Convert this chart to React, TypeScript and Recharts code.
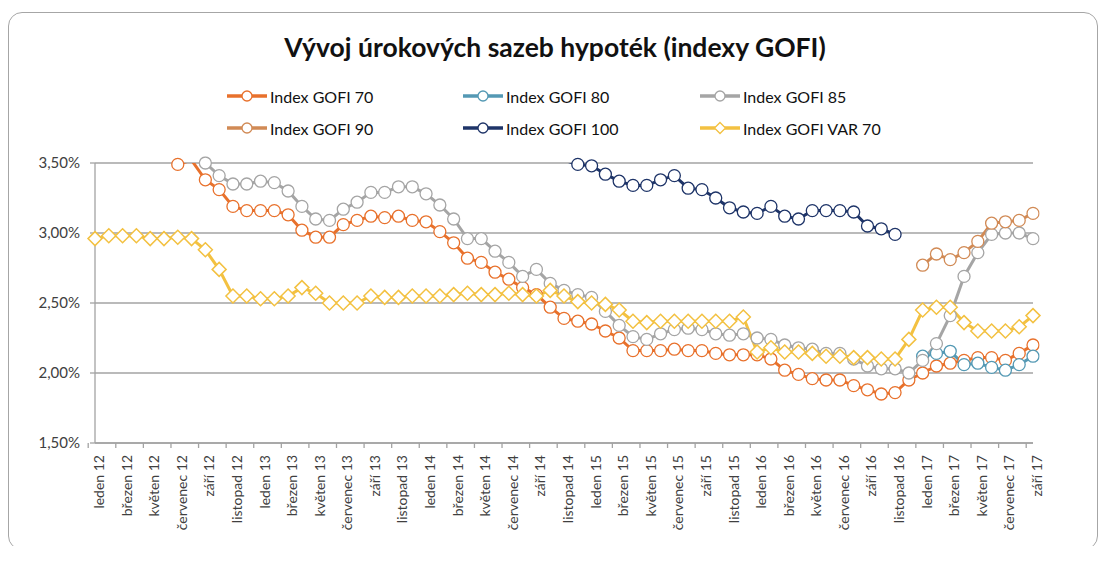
import React from 'react';
import { LineChart, Line, XAxis, YAxis, CartesianGrid } from 'recharts';

// ---------- categories ----------
const MONTHS = ['leden', 'únor', 'březen', 'duben', 'květen', 'červen', 'červenec', 'srpen', 'září', 'říjen', 'listopad', 'prosinec'];
const YEARS = ['12', '13', '14', '15', '16', '17'];
const MONTH_COUNT = 69; // leden 12 .. září 17
const categories: string[] = YEARS.flatMap((y) => MONTHS.map((m) => `${m} ${y}`)).slice(0, MONTH_COUNT);

// ---------- series values (start = index of first month with a value) ----------
const gofi70Start = 6;
const gofi70 = [
  3.49, 3.52, 3.38, 3.31, 3.19, 3.16, 3.16, 3.16, 3.13, 3.02,
  2.97, 2.97, 3.06, 3.09, 3.12, 3.11, 3.12, 3.09, 3.08, 3.01,
  2.93, 2.82, 2.79, 2.72, 2.67, 2.61, 2.56, 2.47, 2.39, 2.37,
  2.35, 2.30, 2.25, 2.16, 2.16, 2.16, 2.17, 2.16, 2.16, 2.14,
  2.13, 2.13, 2.13, 2.10, 2.02, 1.99, 1.96, 1.95, 1.95, 1.91,
  1.88, 1.85, 1.86, 1.95, 2.00, 2.05, 2.07, 2.09, 2.11, 2.11,
  2.09, 2.14, 2.20,
];

const gofi80Start = 60;
const gofi80 = [2.12, 2.14, 2.155, 2.06, 2.07, 2.04, 2.02, 2.06, 2.12];

const gofi85Start = 8;
const gofi85 = [
  3.50, 3.41, 3.35, 3.35, 3.37, 3.36, 3.30, 3.19,
  3.10, 3.09, 3.17, 3.22, 3.29, 3.29, 3.33, 3.33, 3.28, 3.20,
  3.10, 2.96, 2.96, 2.87, 2.79, 2.69, 2.74, 2.64, 2.59, 2.56,
  2.54, 2.44, 2.34, 2.26, 2.24, 2.28, 2.31, 2.32, 2.31, 2.28,
  2.27, 2.28, 2.25, 2.24, 2.20, 2.18, 2.17, 2.14, 2.14, 2.10,
  2.05, 2.03, 2.03, 2.00, 2.09, 2.21, 2.41, 2.69, 2.86, 2.99,
  3.00, 3.00, 2.96,
];

const gofi90Start = 60;
const gofi90 = [2.77, 2.85, 2.81, 2.86, 2.94, 3.07, 3.08, 3.09, 3.14];

const gofi100Start = 34;
const gofi100 = [
  3.52, 3.49,
  3.48, 3.42, 3.37, 3.34, 3.34, 3.38, 3.41, 3.32, 3.31, 3.25,
  3.18, 3.15, 3.14, 3.19, 3.12, 3.10, 3.16, 3.16, 3.16, 3.15,
  3.05, 3.03, 2.99,
];

const var70Start = 0;
const var70 = [
  2.96, 2.98, 2.98, 2.98, 2.96, 2.96, 2.97, 2.96, 2.88, 2.74,
  2.55, 2.55, 2.53, 2.53, 2.55, 2.61, 2.57, 2.50, 2.50, 2.50,
  2.55, 2.54, 2.54, 2.55, 2.55, 2.55, 2.56, 2.57, 2.56, 2.56,
  2.57, 2.56, 2.55, 2.59, 2.55, 2.51, 2.50, 2.49, 2.45, 2.37,
  2.36, 2.37, 2.37, 2.37, 2.37, 2.37, 2.37, 2.40, 2.15, 2.18,
  2.15, 2.15, 2.14, 2.12, 2.12, 2.11, 2.11, 2.10, 2.10, 2.24,
  2.45, 2.47, 2.47, 2.36, 2.30, 2.30, 2.30, 2.33, 2.41,
];

// ---------- axis ----------
const yTicks = [1.5, 2.0, 2.5, 3.0, 3.5];
const Y_MIN = 1.5;
const Y_MAX = 3.5;

const TITLE = 'Vývoj úrokových sazeb hypoték (indexy GOFI)';

type Shape = 'circle' | 'diamond';
const series: { key: string; name: string; color: string; start: number; values: number[]; shape: Shape }[] = [
  { key: 'g70', name: 'Index GOFI 70', color: '#E8712C', start: gofi70Start, values: gofi70, shape: 'circle' },
  { key: 'g80', name: 'Index GOFI 80', color: '#5499B4', start: gofi80Start, values: gofi80, shape: 'circle' },
  { key: 'g85', name: 'Index GOFI 85', color: '#A5A5A5', start: gofi85Start, values: gofi85, shape: 'circle' },
  { key: 'g90', name: 'Index GOFI 90', color: '#D18A55', start: gofi90Start, values: gofi90, shape: 'circle' },
  { key: 'g100', name: 'Index GOFI 100', color: '#1E3468', start: gofi100Start, values: gofi100, shape: 'circle' },
  { key: 'v70', name: 'Index GOFI VAR 70', color: '#F3C141', start: var70Start, values: var70, shape: 'diamond' },
];

const data = categories.map((cat, i) => {
  const row: Record<string, any> = { cat };
  series.forEach((s) => {
    const v = i >= s.start ? s.values[i - s.start] : undefined;
    const val = v == null ? null : v;
    row[s.key] = val;
    row[s.key + '_m'] = val != null && val <= Y_MAX ? val : null;
  });
  return row;
});

// ---------- layout ----------
const FONT = 'Lato, "Open Sans", sans-serif';
const CHART_W = 1088;
const CHART_H = 536;
const MARGIN = { top: 150, right: 64, left: 6, bottom: 6 };
const Y_AXIS_W = 80;
const X_AXIS_H = 100;
const PLOT_W = CHART_W - MARGIN.left - MARGIN.right - Y_AXIS_W;
const BAND = PLOT_W / categories.length;
const AXIS_COLOR = '#A3A3A3';
const TEXT_COLOR = '#404040';

const fmtPct = (v: number) => v.toFixed(2).replace('.', ',') + '%';

const XTick = (props: any) => {
  const { x, y, payload } = props;
  const left = x - BAND / 2;
  return (
    <g>
      <line x1={left} x2={left} y1={y} y2={y + 5} stroke={AXIS_COLOR} strokeWidth={1.3} />
      <text
        transform={`translate(${x + 9},${y + 12}) rotate(-90)`}
        textAnchor="end"
        fontSize={14}
        fontFamily={FONT}
        fill={TEXT_COLOR}
      >
        {payload.value}
      </text>
    </g>
  );
};

const makeDiamond = (color: string) => (props: any) => {
  const { cx, cy, index } = props;
  if (cx == null || cy == null || Number.isNaN(cx) || Number.isNaN(cy)) return <g key={`d-${index}`} />;
  const h = 7;
  return (
    <path
      key={`d-${index}`}
      d={`M${cx},${cy - h}L${cx + h},${cy}L${cx},${cy + h}L${cx - h},${cy}Z`}
      fill="#fff"
      stroke={color}
      strokeWidth={1.5}
    />
  );
};

const LegendIcon = ({ color, shape }: { color: string; shape: Shape }) => (
  <svg width={42} height={14} style={{ display: 'block' }}>
    <line x1={1} x2={41} y1={7} y2={7} stroke={color} strokeWidth={3.5} />
    {shape === 'circle' ? (
      <circle cx={21} cy={7} r={5} fill="#fff" stroke={color} strokeWidth={1.3} />
    ) : (
      <path d="M21,1.5L26.5,7L21,12.5L15.5,7Z" fill="#fff" stroke={color} strokeWidth={1.3} />
    )}
  </svg>
);

// legend column / row positions (inside the bordered frame)
const legendCols = [217, 453, 690];
const legendRows = [83, 115];

export default function App() {
  return (
    <div
      style={{
        position: 'relative',
        top: 4,
        width: 1090,
        height: 538,
        border: '1px solid #A6A6A6',
        borderRadius: 14,
        boxSizing: 'border-box',
        background: '#fff',
        fontFamily: FONT,
      }}
    >
      <div
        style={{
          position: 'absolute',
          left: 0,
          top: 18,
          width: 1092,
          textAlign: 'center',
          fontSize: 26.5,
          fontWeight: 700,
          color: '#111',
          lineHeight: '32px',
        }}
      >
        {TITLE}
      </div>
      {series.map((s, i) => (
        <div
          key={s.key}
          style={{
            position: 'absolute',
            left: legendCols[i % 3],
            top: legendRows[Math.floor(i / 3)] - 11,
            height: 22,
            display: 'flex',
            alignItems: 'center',
            whiteSpace: 'nowrap',
            fontSize: 16,
            color: '#111',
          }}
        >
          <LegendIcon color={s.color} shape={s.shape} />
          <span style={{ marginLeft: 2 }}>{s.name}</span>
        </div>
      ))}
      <div style={{ position: 'absolute', left: 0, top: 0 }}>
        <LineChart width={CHART_W} height={CHART_H} data={data} margin={MARGIN}>
          <CartesianGrid vertical={false} stroke={AXIS_COLOR} strokeWidth={1.3} />
          <XAxis
            dataKey="cat"
            interval={1}
            height={X_AXIS_H}
            tickLine={false}
            tickSize={0}
            tickMargin={0}
            axisLine={{ stroke: AXIS_COLOR, strokeWidth: 1.3 }}
            tick={<XTick />}
          />
          <YAxis
            width={Y_AXIS_W}
            domain={[Y_MIN, Y_MAX]}
            ticks={yTicks}
            allowDataOverflow
            tickFormatter={fmtPct}
            tickSize={5}
            tickMargin={10}
            axisLine={{ stroke: AXIS_COLOR, strokeWidth: 1.3 }}
            tickLine={{ stroke: AXIS_COLOR, strokeWidth: 1.3 }}
            tick={{ fill: TEXT_COLOR, fontSize: 15, fontFamily: FONT }}
          />
          {series.flatMap((s) => [
            <Line
              key={s.key}
              dataKey={s.key}
              name={s.name}
              stroke={s.color}
              strokeWidth={3}
              dot={false}
              activeDot={false}
              isAnimationActive={false}
            />,
            <Line
              key={s.key + '_m'}
              dataKey={s.key + '_m'}
              name={s.name + ' marker'}
              stroke="none"
              legendType="none"
              activeDot={false}
              isAnimationActive={false}
              dot={
                s.shape === 'diamond'
                  ? makeDiamond(s.color)
                  : { r: 6, fill: '#fff', stroke: s.color, strokeWidth: 1.3, clipDot: false }
              }
            />,
          ])}
        </LineChart>
      </div>
    </div>
  );
}
